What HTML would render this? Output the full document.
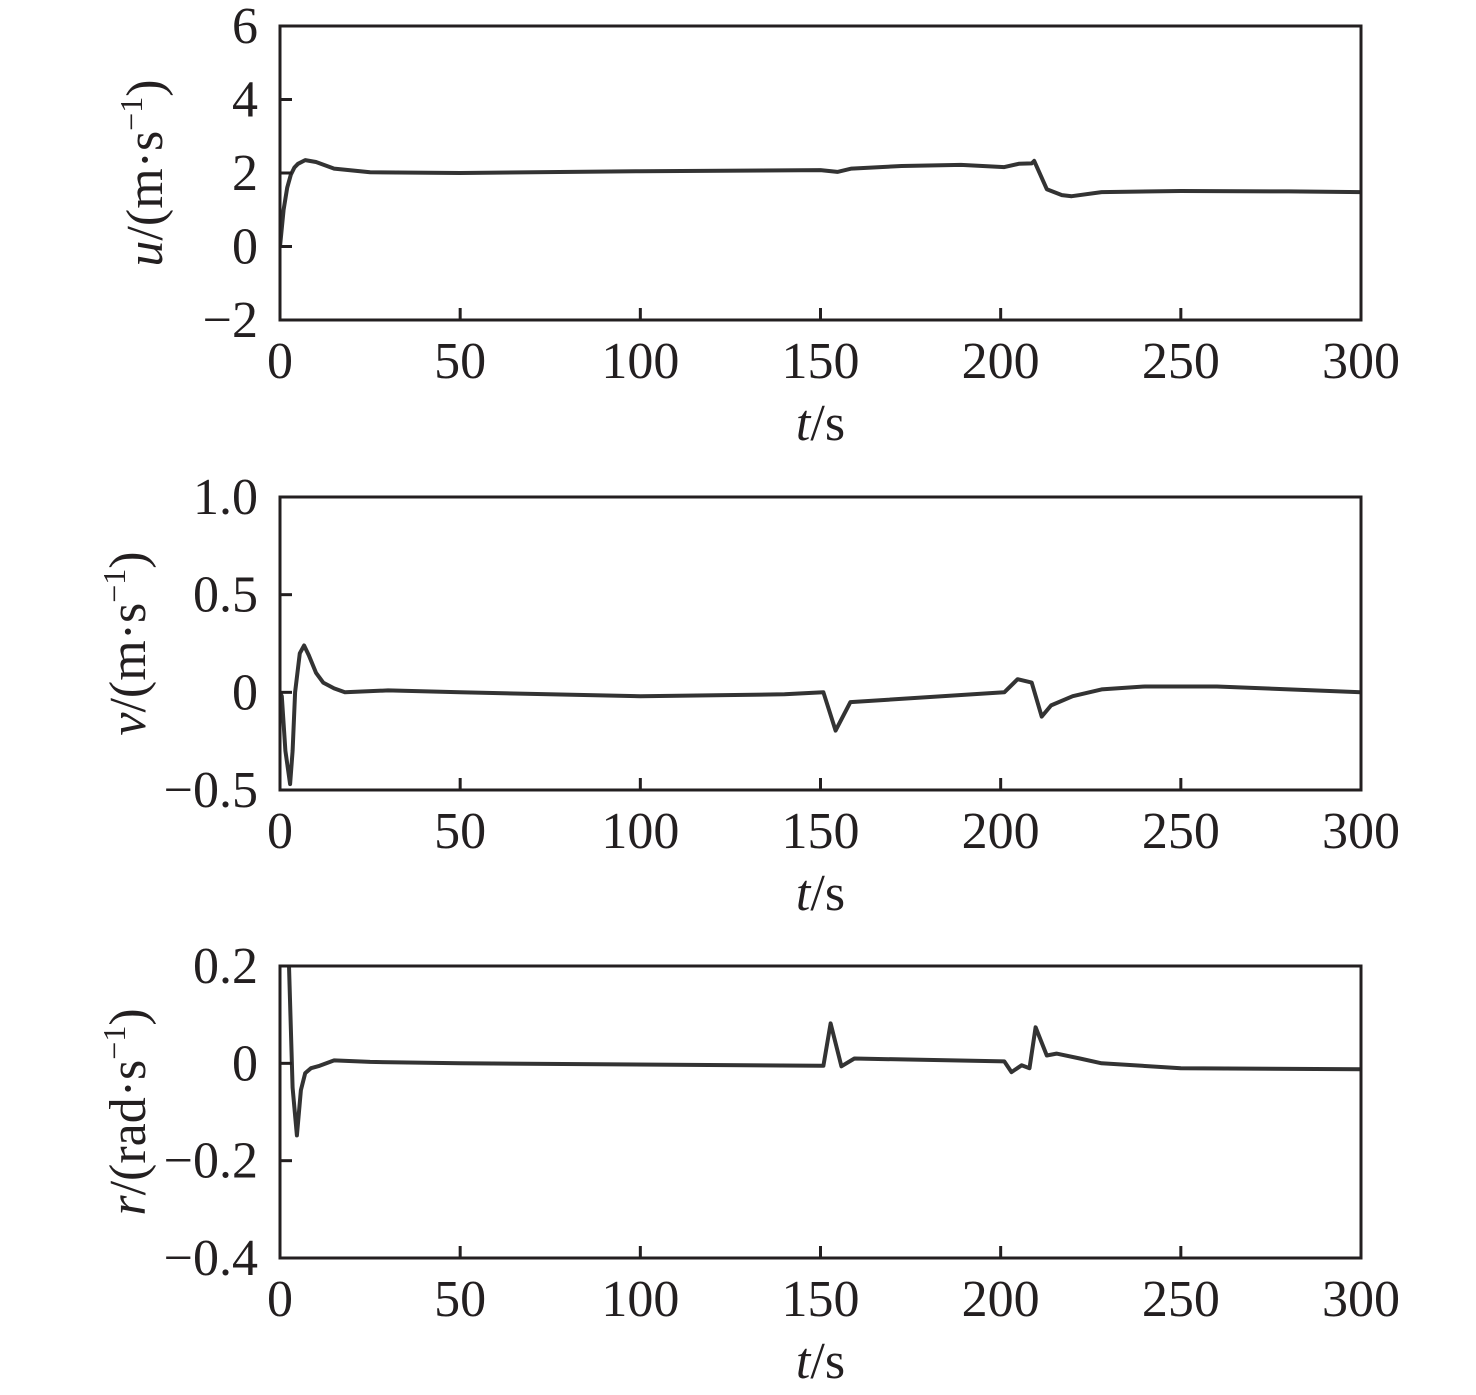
<!DOCTYPE html>
<html><head><meta charset="utf-8"><style>
html,body{margin:0;padding:0;background:#fff}
svg text{font-family:"Liberation Serif",serif;fill:#231f20}
</style></head><body>
<svg id="c" width="1476" height="1390" viewBox="0 0 1476 1390" xmlns="http://www.w3.org/2000/svg"></svg>
<script>
const xTicks=[0,50,100,150,200,250,300];
const uT=[0,1,2,3,4,5,7,10,15,25,50,100,150,154.7,158.6,172.5,189,201,205,208.6,209.3,212.8,217,219.7,228,250,280,300];
const uV=[0,1.0,1.6,1.95,2.15,2.25,2.35,2.3,2.12,2.02,2.0,2.05,2.08,2.03,2.12,2.19,2.22,2.16,2.25,2.26,2.33,1.56,1.40,1.37,1.48,1.51,1.50,1.48];
const vT=[0,0.5,1.5,2.8,3.5,4.2,5.5,6.7,8,10,12,15,18,30,50,100,140,150.8,154.2,158.3,201,204.7,208.6,211.4,214,220,228,240,260,280,300];
const vV=[0,-0.02,-0.3,-0.47,-0.3,0,0.2,0.24,0.19,0.1,0.05,0.02,0,0.01,0,-0.02,-0.01,0,-0.196,-0.05,0,0.067,0.05,-0.124,-0.067,-0.02,0.015,0.03,0.03,0.015,0];
const rT=[0,1,2.5,3.5,4.7,5.8,7,8.6,11,15,25,50,150,150.8,152.8,155.8,159.4,201,203,205.8,208,209.7,212.8,215.5,222,228,250,300];
const rV=[0.6,0.45,0.2,-0.05,-0.148,-0.055,-0.02,-0.01,-0.005,0.006,0.003,0,-0.005,-0.005,0.082,-0.006,0.01,0.004,-0.018,-0.004,-0.01,0.074,0.016,0.02,0.01,0,-0.01,-0.012];
const uTicks=[-2,0,2,4,6], vTicks=[-0.5,0,0.5,1.0], rTicks=[-0.4,-0.2,0,0.2];
const uLab=["\u22122","0","2","4","6"], vLab=["\u22120.5","0","0.5","1.0"], rLab=["\u22120.4","\u22120.2","0","0.2"];
const svg=document.getElementById('c');const NS="http://www.w3.org/2000/svg";
function mk(tag,attrs,parent){const e=document.createElementNS(NS,tag);for(const k in attrs)e.setAttribute(k,attrs[k]);(parent||svg).appendChild(e);return e;}
const L=280,R=1361,FS=52;
function panel(id,top,bot,ymin,ymax,ticks,labs,T,V,ylabHtml,labX){
  const g=mk('g',{});
  
  
  const xs=t=>L+(t-0)/300*(R-L);
  const ys=v=>bot-(v-ymin)/(ymax-ymin)*(bot-top);
  const cp=mk('clipPath',{id:id+'clip'},g);mk('rect',{x:L,y:top,width:R-L,height:bot-top},cp);
  let d='';T.forEach((t,i)=>{d+=(i?'L':'M')+xs(t).toFixed(1)+' '+ys(V[i]).toFixed(1);});
  const p=mk('path',{d:d,fill:'none',stroke:'#333','stroke-width':4,'stroke-linejoin':'round','stroke-linecap':'round','clip-path':'url(#'+id+'clip)'},g);
  
  
  const fr=mk('rect',{x:L,y:top,width:R-L,height:bot-top,fill:'none',stroke:'#231f20','stroke-width':3},g);
  
  
  ticks.forEach((v,i)=>{const y=ys(v);
    if(i>0&&i<ticks.length-1)mk('line',{x1:L,x2:L+12,y1:y,y2:y,stroke:'#231f20','stroke-width':3},g);
    const tx=mk('text',{x:258,y:y+17,'text-anchor':'end','font-size':FS},g);tx.textContent=labs[i];
    
    });
  xTicks.forEach((t,i)=>{const x=xs(t);
    if(i>0&&i<xTicks.length-1)mk('line',{x1:x,x2:x,y1:bot,y2:bot-12,stroke:'#231f20','stroke-width':3},g);
    const tx=mk('text',{x:x,y:bot+58,'text-anchor':'middle','font-size':FS},g);tx.textContent=String(t);
    
    });
  const xt=mk('text',{x:(L+R)/2,y:bot+120,'text-anchor':'middle','font-size':FS},g);
  xt.innerHTML='<tspan font-style="italic">t</tspan>/s';
  
  
  const cy=(top+bot)/2;
  const yt=mk('text',{x:0,y:0,'text-anchor':'middle','font-size':FS,transform:'translate('+labX+','+cy+') rotate(-90)'},g);
  yt.innerHTML=ylabHtml;
  
  
}
panel('u',26,320,-2,6,uTicks,uLab,uT,uV,'<tspan font-style="italic">u</tspan>/(m·s<tspan font-size="32" dy="-20">−1</tspan><tspan dy="20">)</tspan>',162);
panel('v',497,790,-0.5,1.0,vTicks,vLab,vT,vV,'<tspan font-style="italic">v</tspan>/(m·s<tspan font-size="32" dy="-20">−1</tspan><tspan dy="20">)</tspan>',145);
panel('r',966,1258,-0.4,0.2,rTicks,rLab,rT,rV,'<tspan font-style="italic">r</tspan>/(rad·s<tspan font-size="32" dy="-20">−1</tspan><tspan dy="20">)</tspan>',145);
</script>
</body></html>
